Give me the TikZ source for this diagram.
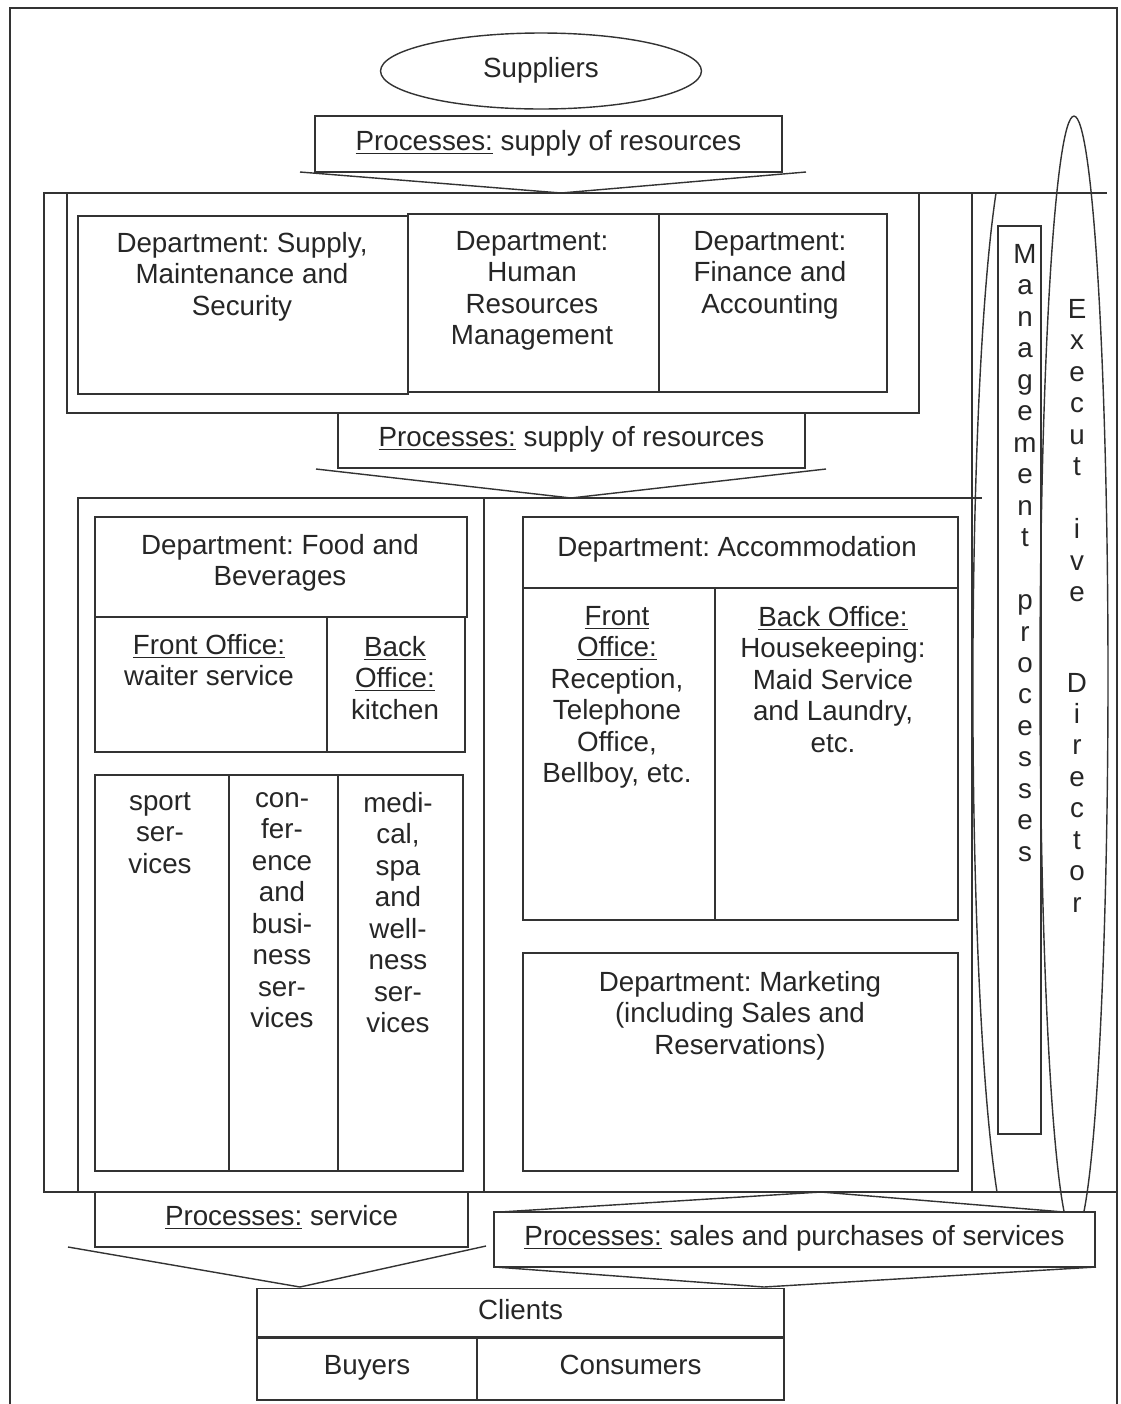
\documentclass[tikz,border=0pt]{standalone}
\usepackage{fontspec}
\setmainfont{Liberation Sans}
\usepackage{tikz}
\usetikzlibrary{shapes.geometric, positioning, fit}
\frenchspacing

\begin{document}
\begin{tikzpicture}[x=0.02cm, y=-0.02cm]
\tikzstyle{txt} = [align=center, inner sep=0pt, text=black!85, font=\fontsize{15.8}{17.9}\selectfont, execute at begin node=\strut]
\tikzstyle{cell} = [draw=black!80, line width=0.8pt, inner sep=0pt]
\tikzstyle{proc} = [cell, fill=white, txt]
\tikzstyle{wire} = [draw=black!80, line width=0.8pt]

\useasboundingbox (0,0) rectangle (1120,1404);
\draw[wire] (10,1404) -- (10,8) -- (1117,8) -- (1117,1404);

% suppliers and first process
\node (suppliers) [cell, ellipse, minimum width=6.42cm, minimum height=1.52cm, txt] at (541,71) {Suppliers};
\node (proc1) [proc, minimum width=9.34cm, minimum height=1.12cm] at (548.5,144) {\underline{Processes:} supply of resources};

% hotel frame
\draw[wire] (44,193) rectangle (972,1192);
\draw[wire] (972,193) -- (1107,193);
\draw[wire] (972,1192) -- (1117,1192);

% upper departments
\node (upper) [cell, fit={(67,193) (919,413)}] {};
\node (supply) [cell, fit={(78,216) (408,394)}] {};
\node (hr) [cell, fit={(408,214) (659,392)}] {};
\node (finance) [cell, fit={(659,214) (887,392)}] {};
\node (supplytxt) [txt, anchor=north] at (242,232) {Department: Supply,\\Maintenance and\\Security};
\node (hrtxt) [txt, anchor=north] at (532,231) {Department:\\Human\\Resources\\Management};
\node (financetxt) [txt, anchor=north] at (770,231) {Department:\\Finance and\\Accounting};

% lower departments
\draw[wire] (78,1192) -- (78,498) -- (982,498);
\draw[wire] (484,498) -- (484,1192);

\node (fbhead) [cell, fit={(95,517) (467,617)}] {};
\node (fbfront) [cell, fit={(95,617) (327,752)}] {};
\node (fbback) [cell, fit={(327,617) (465,752)}] {};
\node (fbheadtxt) [txt, anchor=north] at (280,534) {Department: Food and\\Beverages};
\node (fbfronttxt) [txt, anchor=north] at (209,634) {\underline{Front Office:}\\waiter service};
\node (fbbacktxt) [txt, anchor=north] at (395,636) {\underline{Back}\\\underline{Office:}\\kitchen};

\node (sport) [cell, fit={(95,775) (229,1171)}] {};
\node (conf) [cell, fit={(229,775) (338,1171)}] {};
\node (medical) [cell, fit={(338,775) (463,1171)}] {};
\node (sporttxt) [txt, anchor=north] at (160,792) {sport\\ser-\\vices};
\node (conftxt) [txt, anchor=north] at (282,792) {con-\\fer-\\ence\\and\\busi-\\ness\\ser-\\vices};
\node (medicaltxt) [txt, anchor=north] at (398,792) {medi-\\cal,\\spa\\and\\well-\\ness\\ser-\\vices};

\node (acchead) [cell, fit={(523,517) (958,588)}] {};
\node (accfront) [cell, fit={(523,588) (715,920)}] {};
\node (accback) [cell, fit={(715,588) (958,920)}] {};
\node (accheadtxt) [txt, anchor=north] at (737,534) {Department: Accommodation};
\node (accfronttxt) [txt, anchor=north] at (617,606) {\underline{Front}\\\underline{Office:}\\Reception,\\Telephone\\Office,\\Bellboy, etc.};
\node (accbacktxt) [txt, anchor=north] at (833,606) {\underline{Back Office:}\\Housekeeping:\\Maid Service\\and Laundry,\\etc.};

\node (marketing) [cell, fit={(523,953) (958,1171)}] {};
\node (marketingtxt) [txt, anchor=north] at (740,971) {Department: Marketing\\(including Sales and\\Reservations)};

% management and director
\draw[wire] (996,193) .. controls (965,400) and (965,985) .. (997,1192);
\node (mgmt) [cell, fit={(998,226) (1041,1134)}] {};
\node (mgmttxt) [txt, anchor=north] at (1025,244) {M\\a\\n\\a\\g\\e\\m\\e\\n\\t\\[0.632cm]p\\r\\o\\c\\e\\s\\s\\e\\s};
\node (director) [cell, ellipse, minimum width=1.36cm, minimum height=22.4cm] at (1074,676) {};
\node (directortxt) [txt, anchor=north] at (1077,299) {E\\x\\e\\c\\u\\t\\[0.632cm]i\\v\\e\\[1.18cm]D\\i\\r\\e\\c\\t\\o\\r};

% processes
\node (proc2) [proc, minimum width=9.34cm, minimum height=1.1cm] at (571.5,440.5) {\underline{Processes:} supply of resources};
\node (procservice) [proc, minimum width=7.46cm, minimum height=1.1cm] at (281.5,1219.5) {\underline{Processes:} service};
\node (procsales) [proc, minimum width=12.02cm, minimum height=1.1cm] at (794.5,1239.5) {\underline{Processes:} sales and purchases of services};

\coordinate (c1a) at (300,172);
\coordinate (c1b) at (561,193);
\coordinate (c1c) at (806,172);
\draw[wire] (c1a) -- (c1b) -- (c1c);

\coordinate (c2a) at (316,469);
\coordinate (c2b) at (571,498);
\coordinate (c2c) at (826,469);
\draw[wire] (c2a) -- (c2b) -- (c2c);

\coordinate (c3a) at (68,1247);
\coordinate (c3b) at (300,1287);
\coordinate (c3c) at (486,1246);
\draw[wire] (c3a) -- (c3b) -- (c3c);

\coordinate (c4a) at (500,1212);
\coordinate (c4b) at (821,1192);
\coordinate (c4c) at (1064,1212);
\draw[wire] (c4a) -- (c4b) -- (c4c);

\coordinate (c5a) at (495,1267);
\coordinate (c5b) at (764,1287);
\coordinate (c5c) at (1096,1267);
\draw[wire] (c5a) -- (c5b) -- (c5c);

% clients
\node (clients) [cell, txt, minimum width=10.54cm, minimum height=1cm] at (520.5,1313.5) {Clients};
\node (buyers) [cell, txt, minimum width=4.4cm, minimum height=1.26cm] at (367,1368.5) {Buyers};
\node (consumers) [cell, txt, minimum width=6.14cm, minimum height=1.26cm] at (630.5,1368.5) {Consumers};

\end{tikzpicture}
\end{document}
